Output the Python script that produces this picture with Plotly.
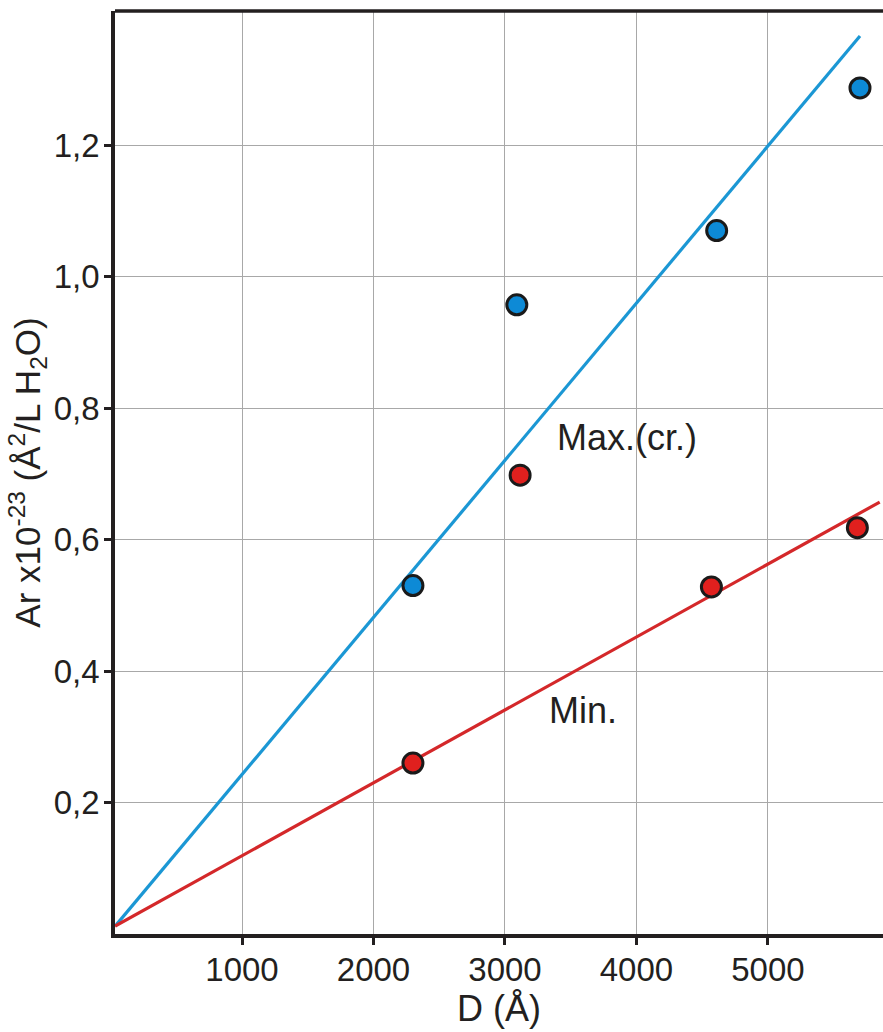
import plotly.graph_objects as go

# Data
max_x = [2300, 3090, 4610, 5700]
max_y = [0.53, 0.957, 1.07, 1.287]
min_x = [2300, 3115, 4570, 5680]
min_y = [0.26, 0.698, 0.528, 0.618]

max_line_x = [35, 5700]
max_line_y = [0.012, 1.366]
min_line_x = [35, 5850]
min_line_y = [0.012, 0.657]

x_ticks = [1000, 2000, 3000, 4000, 5000]
x_tick_text = ["1000", "2000", "3000", "4000", "5000"]
y_ticks = [0.2, 0.4, 0.6, 0.8, 1.0, 1.2]
y_tick_text = ["0,2", "0,4", "0,6", "0,8", "1,0", "1,2"]

BLUE_LINE = "#1b97d4"
BLUE_FILL = "#0d8ad6"
RED_LINE = "#d4282a"
RED_FILL = "#e0201e"
FONT = "Liberation Sans, Arial, sans-serif"
TXT = "#231f20"

fig = go.Figure()
fig.add_trace(go.Scatter(x=max_line_x, y=max_line_y, mode="lines",
                         line=dict(color=BLUE_LINE, width=3.2), showlegend=False, hoverinfo="skip"))
fig.add_trace(go.Scatter(x=min_line_x, y=min_line_y, mode="lines",
                         line=dict(color=RED_LINE, width=3.2), showlegend=False, hoverinfo="skip"))
fig.add_trace(go.Scatter(x=max_x, y=max_y, mode="markers", name="Max.(cr.)",
                         marker=dict(size=20, color=BLUE_FILL, line=dict(color="#1a1a1a", width=3)),
                         showlegend=False))
fig.add_trace(go.Scatter(x=min_x, y=min_y, mode="markers", name="Min.",
                         marker=dict(size=20, color=RED_FILL, line=dict(color="#1a1a1a", width=3)),
                         showlegend=False))

fig.add_annotation(x=3928, y=0.756, text="Max.(cr.)", showarrow=False,
                   font=dict(family=FONT, size=36, color=TXT))
fig.add_annotation(x=3593, y=0.340, text="Min.", showarrow=False,
                   font=dict(family=FONT, size=36, color=TXT))

# top border line
fig.add_shape(type="line", xref="paper", yref="paper", x0=0, x1=1, y0=1, y1=1,
              line=dict(color=TXT, width=3.5))

fig.update_xaxes(range=[34, 5875], tickmode="array", tickvals=x_ticks, ticktext=x_tick_text,
                 showgrid=True, gridcolor="#a8a8a8", gridwidth=1, zeroline=False,
                 showline=True, linecolor=TXT, linewidth=3.5,
                 ticks="outside", ticklen=7, tickwidth=2.5, tickcolor=TXT,
                 tickfont=dict(family=FONT, size=33, color=TXT), ticklabelstandoff=-3,
                 title=dict(text="D (Å)", font=dict(family=FONT, size=36, color=TXT), standoff=4))
fig.update_yaxes(range=[0, 1.404], tickmode="array", tickvals=y_ticks, ticktext=y_tick_text,
                 showgrid=True, gridcolor="#a8a8a8", gridwidth=1, zeroline=False,
                 showline=True, linecolor=TXT, linewidth=3.5,
                 ticks="outside", ticklen=7, tickwidth=2.5, tickcolor=TXT,
                 tickfont=dict(family=FONT, size=33, color=TXT), ticklabelstandoff=-2,
                 title=dict(text="Ar x10<sup>-23</sup> (Å<sup>2</sup>/L H<sub>2</sub>O)",
                            font=dict(family=FONT, size=35, color=TXT), standoff=4))

fig.update_layout(width=883, height=1032, margin=dict(l=115, r=0, t=11, b=98),
                  plot_bgcolor="white", paper_bgcolor="white")

fig.write_html("out.html")
